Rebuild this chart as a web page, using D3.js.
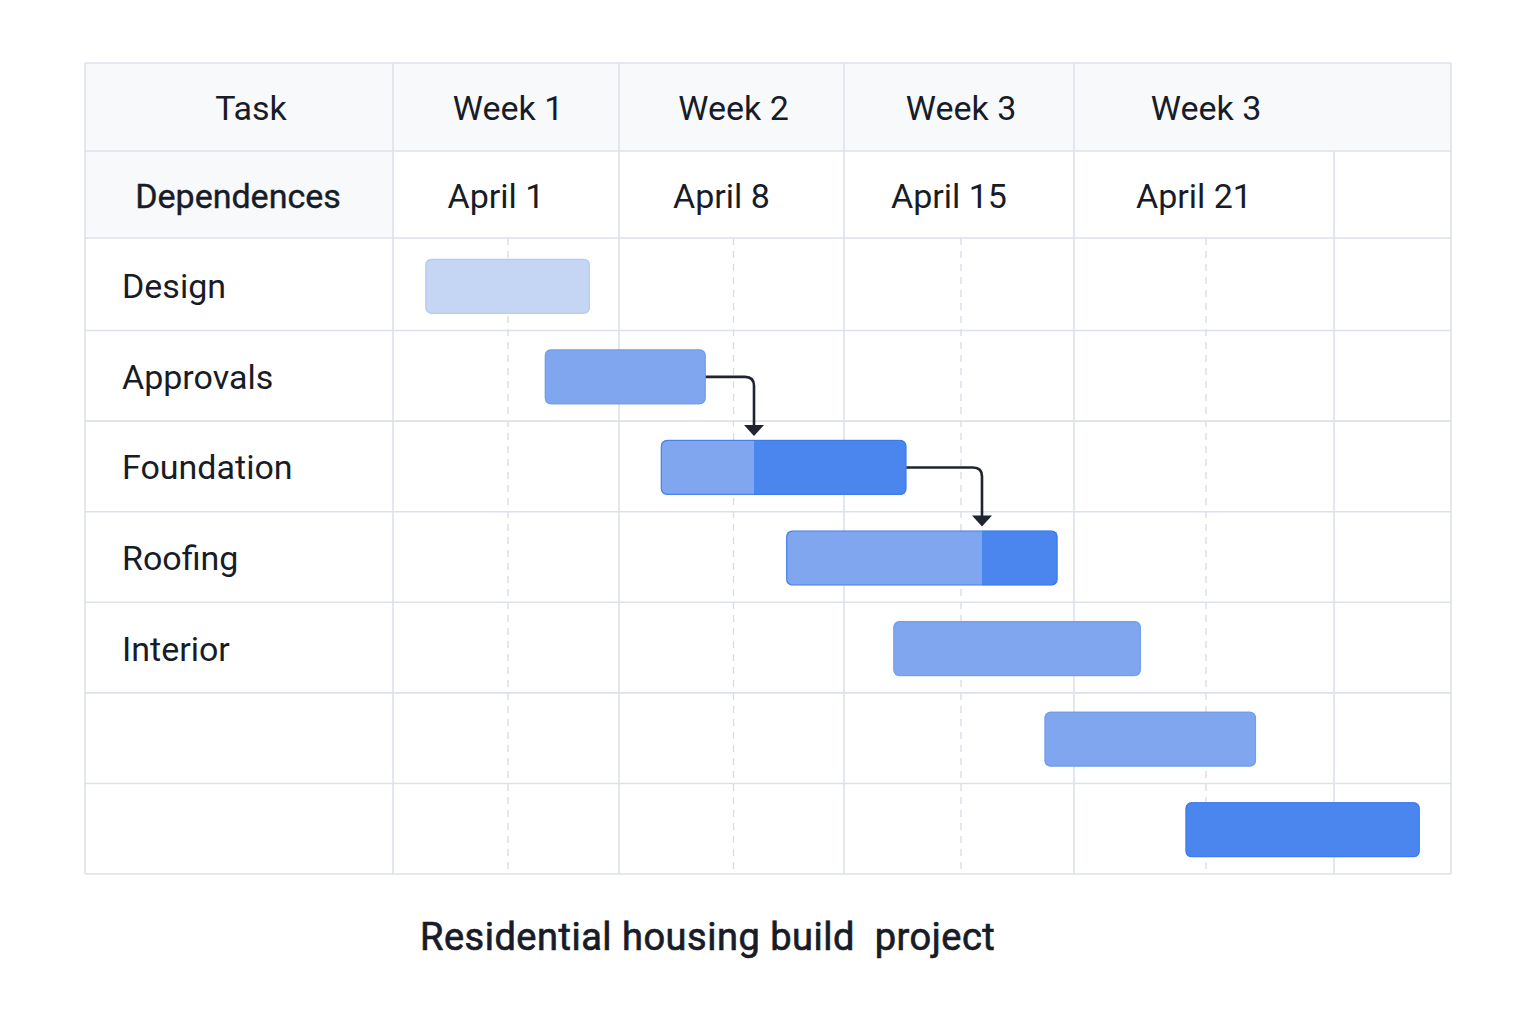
<!DOCTYPE html>
<html>
<head>
<meta charset="utf-8">
<script src="https://cdn.jsdelivr.net/npm/d3@7"></script>
<style>
  body { margin: 0; background: #ffffff; }
  text { font-family: Roboto, "Noto Sans", sans-serif; fill: #171c28; }
</style>
</head>
<body>
<div id="chart"></div>
<script>
// data (days counted from April 1)
const tasks = ["Design", "Approvals", "Foundation", "Roofing", "Interior", "", ""];
const starts = [1, 4.7, 8.3, 12.2, 15.5, 20.1, 24];
const ends = [6.1, 9.7, 15.9, 20.5, 22.8, 25.9, 30.2];
const splits = [null, null, 11.2, 18.2, null, null, null]; // where the darker part starts
const tones = ["pale", "light", "light", "light", "light", "light", "dark"];
const weeks = ["Week 1", "Week 2", "Week 3", "Week 3"];
const dates = ["April 1", "April 8", "April 15", "April 21"];
const columnDays = [0, 7, 14, 21, 28, 31];
const links = [[1, 2], [2, 3]];

const W = 1536, H = 1024;
const tLeft = 85, labelCol = 393, tRight = 1451;
const tTop = 63, head1 = 151, head2 = 238, tBottom = 874;

const fills = { pale: "#c5d6f5", light: "#7fa6ee", dark: "#4a86ee" };
const strokes = { pale: "#afc7f2", light: "#6e9bec", dark: "#3a78e8" };
const gridColor = "#dce1ea";

const svg = d3.select("#chart").append("svg")
    .attr("width", W)
    .attr("height", H);

// piecewise time scale: the week columns are not all the same width
const x = d3.scaleLinear()
    .domain(columnDays)
    .range([393, 619, 844, 1074, 1334, 1451]);

const y = d3.scaleBand()
    .domain(d3.range(tasks.length))
    .range([head2 + 2, tBottom]);

// header backgrounds
svg.append("rect")
    .attr("x", tLeft).attr("y", tTop)
    .attr("width", tRight - tLeft).attr("height", head1 - tTop)
    .attr("fill", "#f8f9fb");
svg.append("rect")
    .attr("x", tLeft).attr("y", head1)
    .attr("width", labelCol - tLeft).attr("height", head2 - head1)
    .attr("fill", "#f8f9fb");

let grid = svg.append("g").attr("class", "grid");

// dashed mid-week lines
grid.selectAll("line.mid")
    .data(d3.range(4))
    .enter()
    .append("line")
    .attr("class", "mid")
    .attr("x1", i => (x(columnDays[i]) + x(columnDays[i + 1])) / 2 + 2)
    .attr("x2", i => (x(columnDays[i]) + x(columnDays[i + 1])) / 2 + 2)
    .attr("y1", head2)
    .attr("y2", tBottom)
    .attr("stroke", "#d6dbe4")
    .attr("stroke-width", 1.3)
    .attr("stroke-dasharray", "7,6");

// horizontal lines
const rowLines = [tTop, head1, head2].concat(d3.range(tasks.length).map(i => y(i) + y.bandwidth()));
grid.selectAll("line.row")
    .data(rowLines)
    .enter()
    .append("line")
    .attr("class", "row")
    .attr("x1", tLeft).attr("x2", tRight)
    .attr("y1", d => d).attr("y2", d => d)
    .attr("stroke", gridColor)
    .attr("stroke-width", 1.6);

// vertical lines
const colLines = [tLeft, labelCol].concat(columnDays.slice(1, 4).map(d => x(d)), [tRight]);
grid.selectAll("line.col")
    .data(colLines)
    .enter()
    .append("line")
    .attr("class", "col")
    .attr("x1", d => d).attr("x2", d => d)
    .attr("y1", tTop).attr("y2", tBottom)
    .attr("stroke", gridColor)
    .attr("stroke-width", 1.6);

// week 4 line starts below the first header row
grid.append("line")
    .attr("x1", x(28)).attr("x2", x(28))
    .attr("y1", head1).attr("y2", tBottom)
    .attr("stroke", gridColor)
    .attr("stroke-width", 1.6);

// header texts
svg.append("text")
    .attr("x", 251)
    .attr("y", (tTop + head1) / 2 + 13)
    .attr("text-anchor", "middle")
    .attr("font-size", "34px")
    .text("Task");
svg.append("text")
    .attr("x", 238)
    .attr("y", (head1 + head2) / 2 + 13)
    .attr("text-anchor", "middle")
    .attr("font-size", "34px")
    .attr("stroke", "#171c28")
    .attr("stroke-width", 0.4)
    .text("Dependences");

svg.selectAll("text.week")
    .data(weeks)
    .enter()
    .append("text")
    .attr("class", "week")
    .attr("x", (d, i) => (x(columnDays[i]) + x(columnDays[i + 1])) / 2 + 2)
    .attr("y", (tTop + head1) / 2 + 13)
    .attr("text-anchor", "middle")
    .attr("font-size", "34px")
    .text(d => d);

svg.selectAll("text.date")
    .data(dates)
    .enter()
    .append("text")
    .attr("class", "date")
    .attr("x", (d, i) => (x(columnDays[i]) + x(columnDays[i + 1])) / 2 - 10)
    .attr("y", (head1 + head2) / 2 + 13)
    .attr("text-anchor", "middle")
    .attr("font-size", "34px")
    .text(d => d);

// task labels
svg.selectAll("text.task")
    .data(tasks)
    .enter()
    .append("text")
    .attr("class", "task")
    .attr("x", 122)
    .attr("y", (d, i) => y(i) + y.bandwidth() / 2 + 13)
    .attr("font-size", "34px")
    .text(d => d);

// bars
const barH = 55;
const defs = svg.append("defs");

let bars = svg.append("g").attr("class", "bars");

tasks.forEach((t, i) => {
    const bx = x(starts[i]);
    const bw = x(ends[i]) - x(starts[i]);
    const by = y(i) + (y.bandwidth() - barH) / 2 + 1;

    defs.append("clipPath")
        .attr("id", "clip" + i)
        .append("rect")
        .attr("x", bx).attr("y", by)
        .attr("width", bw).attr("height", barH)
        .attr("rx", 6);

    let g = bars.append("g").attr("clip-path", "url(#clip" + i + ")");

    g.append("rect")
        .attr("x", bx).attr("y", by)
        .attr("width", bw).attr("height", barH)
        .attr("fill", fills[tones[i]]);

    if (splits[i] !== null) {
        g.append("rect")
            .attr("x", x(splits[i])).attr("y", by)
            .attr("width", x(ends[i]) - x(splits[i])).attr("height", barH)
            .attr("fill", fills.dark);
    }

    bars.append("rect")
        .attr("x", bx + 0.5).attr("y", by + 0.5)
        .attr("width", bw - 1).attr("height", barH - 1)
        .attr("rx", 6)
        .attr("fill", "none")
        .attr("stroke", splits[i] !== null ? strokes.dark : strokes[tones[i]])
        .attr("stroke-width", 1.2)
        .attr("stroke-opacity", 0.8);
});

// dependency arrows
const r = 9;
links.forEach(([a, b]) => {
    const x0 = x(ends[a]);
    const y0 = y(a) + y.bandwidth() / 2 + 1;
    const x1 = x(splits[b]);
    const y1 = y(b) + (y.bandwidth() - barH) / 2 - 3;
    const p = d3.path();
    p.moveTo(x0, y0);
    p.lineTo(x1 - r, y0);
    p.quadraticCurveTo(x1, y0, x1, y0 + r);
    p.lineTo(x1, y1 - 8);
    svg.append("path")
        .attr("d", p.toString())
        .attr("fill", "none")
        .attr("stroke", "#1f2430")
        .attr("stroke-width", 2.6);
    svg.append("path")
        .attr("d", `M${x1 - 10},${y1 - 11} L${x1 + 10},${y1 - 11} L${x1},${y1} Z`)
        .attr("fill", "#1f2430");
});

// title
svg.append("text")
    .attr("x", 420)
    .attr("y", 950)
    .attr("font-size", "38px")
    .attr("letter-spacing", "0.5px")
    .attr("stroke", "#171c28")
    .attr("stroke-width", 0.7)
    .style("white-space", "pre")
    .text("Residential housing build  project");
</script>
</body>
</html>
